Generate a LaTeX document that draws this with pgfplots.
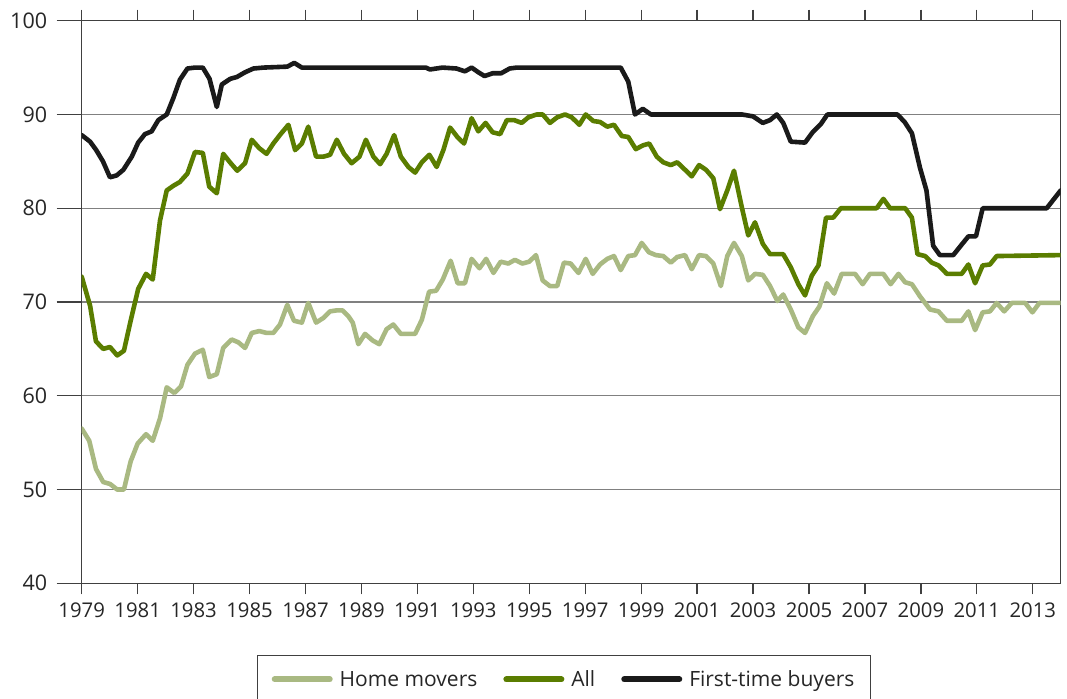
\documentclass[border=0pt]{standalone}
\usepackage{fontspec}
\setmainfont{Open Sans}
\usepackage{pgfplots}
\pgfplotsset{compat=1.18}
\definecolor{hm}{HTML}{A9B982}
\definecolor{allc}{HTML}{5A7D00}
\definecolor{ftb}{HTML}{1A1A1A}
\definecolor{gridc}{HTML}{808080}
\definecolor{axc}{HTML}{404040}
\definecolor{txt}{HTML}{262626}
\begin{document}
\begin{tikzpicture}
\begin{axis}[
  at={(0pt,0pt)}, anchor=south west,
  width=979pt, height=562.6pt, scale only axis,
  xmin=1979, xmax=2014, ymin=40, ymax=100,
  xtick={1979,1981,...,2013},
  ytick={40,50,...,100},
  /pgf/number format/assume math mode=true,
  /pgf/number format/1000 sep={},
  tick align=outside,
  major tick length=11pt,
  xtick style={axc, line width=1.3pt},
  ytick style={draw=none},
  xticklabel style={font=\fontsize{20.3}{22}\selectfont, text=txt, inner sep=0pt, yshift=-8.5pt},
  yticklabel style={font=\fontsize{21.5}{24}\selectfont, text=txt, inner sep=0pt, xshift=-23.4pt},
  axis line style={axc, line width=1.3pt},
  ymajorgrids,
  major grid style={gridc, line width=1.3pt},
  legend style={at={(0.4927,-0.1274)}, anchor=north, legend columns=3,
    draw=axc, line width=1.3pt, font=\fontsize{21}{24}\selectfont, text=txt,
    inner xsep=14pt, inner ysep=13pt,
    /tikz/every odd column/.append style={column sep=5pt},
    /tikz/every even column/.append style={column sep=24pt}},
  legend image code/.code={\draw[#1, line width=6pt] (0pt,0pt) -- (55pt,0pt);},
  every axis plot/.append style={line width=4.6pt, line join=round, line cap=round, mark=none},
]
\addplot[hm] table {
1979.00 56.5
1979.27 55.2
1979.51 52.2
1979.77 50.8
1980.01 50.6
1980.27 50.0
1980.51 50.0
1980.75 53.0
1981.00 54.9
1981.30 55.9
1981.54 55.2
1981.80 57.6
1982.04 60.9
1982.31 60.3
1982.55 61.0
1982.78 63.3
1983.05 64.5
1983.33 64.9
1983.56 62.0
1983.83 62.3
1984.06 65.1
1984.36 66.0
1984.60 65.7
1984.84 65.1
1985.08 66.7
1985.35 66.9
1985.61 66.7
1985.85 66.7
1986.09 67.6
1986.35 69.7
1986.59 68.0
1986.87 67.8
1987.10 69.9
1987.38 67.8
1987.64 68.3
1987.88 69.0
1988.10 69.1
1988.33 69.1
1988.53 68.5
1988.69 67.8
1988.89 65.5
1989.13 66.6
1989.40 65.9
1989.64 65.5
1989.90 67.1
1990.14 67.6
1990.41 66.6
1990.92 66.6
1991.16 68.1
1991.42 71.1
1991.67 71.2
1991.91 72.4
1992.19 74.4
1992.44 72.0
1992.70 72.0
1992.94 74.6
1993.22 73.6
1993.46 74.6
1993.72 73.1
1993.98 74.3
1994.25 74.1
1994.49 74.5
1994.75 74.1
1995.00 74.3
1995.24 75.0
1995.48 72.3
1995.74 71.7
1996.00 71.7
1996.24 74.2
1996.48 74.1
1996.76 73.1
1997.02 74.6
1997.27 73.0
1997.53 74.0
1997.79 74.6
1998.03 74.9
1998.27 73.4
1998.54 74.9
1998.78 75.0
1999.02 76.3
1999.28 75.3
1999.53 75.0
1999.79 74.9
2000.06 74.2
2000.29 74.8
2000.57 75.0
2000.81 73.5
2001.07 75.0
2001.32 74.9
2001.58 74.1
2001.85 71.7
2002.08 74.9
2002.32 76.3
2002.60 74.9
2002.83 72.3
2003.07 73.0
2003.35 72.9
2003.61 71.7
2003.87 70.1
2004.08 70.8
2004.35 69.2
2004.62 67.3
2004.86 66.7
2005.14 68.5
2005.37 69.5
2005.64 72.0
2005.90 70.9
2006.17 73.0
2006.65 73.0
2006.92 71.9
2007.18 73.0
2007.66 73.0
2007.92 71.9
2008.20 73.0
2008.44 72.1
2008.68 71.9
2008.97 70.6
2009.33 69.2
2009.63 69.0
2009.93 68.0
2010.46 68.0
2010.70 69.0
2010.94 67.0
2011.21 68.9
2011.47 69.0
2011.71 69.9
2011.98 69.0
2012.25 69.9
2012.73 69.9
2012.99 68.9
2013.24 69.9
2014.00 69.9
};
\addlegendentry{Home movers}
\addplot[allc] table {
1979.00 72.7
1979.30 69.6
1979.51 65.8
1979.77 65.0
1980.01 65.2
1980.27 64.3
1980.51 64.8
1980.75 68.0
1981.02 71.4
1981.30 73.0
1981.54 72.4
1981.80 78.7
1982.04 81.9
1982.28 82.4
1982.51 82.8
1982.78 83.7
1983.05 86.0
1983.33 85.9
1983.56 82.3
1983.83 81.6
1984.06 85.8
1984.30 84.9
1984.56 84.0
1984.84 84.8
1985.08 87.3
1985.35 86.4
1985.61 85.8
1985.85 86.9
1986.11 87.9
1986.39 88.9
1986.63 86.2
1986.87 86.9
1987.10 88.7
1987.38 85.5
1987.64 85.5
1987.88 85.7
1988.12 87.3
1988.38 85.8
1988.65 84.8
1988.93 85.5
1989.16 87.3
1989.43 85.5
1989.67 84.7
1989.90 85.8
1990.17 87.8
1990.41 85.5
1990.68 84.4
1990.92 83.8
1991.16 84.9
1991.43 85.7
1991.69 84.4
1991.93 86.2
1992.17 88.6
1992.43 87.6
1992.67 86.9
1992.94 89.6
1993.18 88.2
1993.44 89.1
1993.69 88.1
1993.96 87.9
1994.20 89.4
1994.46 89.4
1994.73 89.1
1994.97 89.7
1995.27 90.0
1995.48 90.0
1995.74 89.1
1996.00 89.7
1996.28 90.0
1996.52 89.7
1996.79 88.9
1997.02 90.0
1997.29 89.3
1997.53 89.2
1997.79 88.7
1998.03 88.9
1998.31 87.7
1998.54 87.6
1998.81 86.3
1999.06 86.7
1999.29 86.9
1999.56 85.5
1999.79 84.9
2000.06 84.6
2000.29 84.9
2000.57 84.1
2000.81 83.4
2001.07 84.6
2001.32 84.1
2001.58 83.2
2001.82 79.9
2002.08 81.9
2002.32 84.0
2002.60 80.1
2002.83 77.1
2003.07 78.5
2003.35 76.2
2003.61 75.1
2004.08 75.1
2004.35 73.7
2004.62 71.9
2004.86 70.7
2005.10 72.8
2005.34 73.9
2005.61 79.0
2005.87 79.0
2006.14 80.0
2007.42 80.0
2007.66 81.0
2007.90 80.0
2008.44 80.0
2008.68 79.0
2008.88 75.1
2009.15 74.9
2009.39 74.2
2009.63 73.9
2009.93 73.0
2010.46 73.0
2010.70 74.0
2010.94 72.0
2011.21 73.9
2011.47 74.0
2011.71 74.9
2014.00 75.0
};
\addlegendentry{All}
\addplot[ftb] table {
1979.00 87.8
1979.30 87.1
1979.52 86.2
1979.76 85.0
1980.01 83.3
1980.25 83.5
1980.49 84.1
1980.79 85.5
1981.02 87.0
1981.26 87.9
1981.50 88.2
1981.74 89.4
1982.04 90.0
1982.27 91.7
1982.51 93.7
1982.78 94.9
1983.05 95.0
1983.33 95.0
1983.57 93.8
1983.83 90.8
1984.01 93.2
1984.31 93.8
1984.55 94.0
1984.84 94.5
1985.14 94.9
1985.50 95.0
1986.35 95.1
1986.60 95.5
1986.87 95.0
1991.30 95.0
1991.45 94.8
1991.90 95.0
1992.40 94.9
1992.70 94.6
1992.94 95.0
1993.18 94.5
1993.40 94.1
1993.70 94.4
1994.00 94.4
1994.30 94.9
1994.55 95.0
1998.27 95.0
1998.54 93.5
1998.78 90.0
1999.06 90.6
1999.35 90.0
2002.60 90.0
2003.00 89.8
2003.35 89.1
2003.61 89.4
2003.85 90.0
2004.08 89.1
2004.35 87.1
2004.86 87.0
2005.13 88.1
2005.43 89.0
2005.66 90.0
2008.16 90.0
2008.42 89.2
2008.68 88.0
2008.97 84.3
2009.20 81.9
2009.44 76.0
2009.68 75.0
2010.16 75.0
2010.40 75.9
2010.70 77.0
2010.97 77.0
2011.21 80.0
2013.50 80.0
2014.00 81.9
};
\addlegendentry{First-time buyers}
\end{axis}
\foreach \k in {0,...,6} {
  \draw[axc, line width=1.3pt] (-25pt, \k*93.767pt) -- (0pt, \k*93.767pt);
}
\pgfresetboundingbox
\path (-81.7pt,-114.7pt) rectangle (985.3pt,583.3pt);
\end{tikzpicture}
\end{document}
